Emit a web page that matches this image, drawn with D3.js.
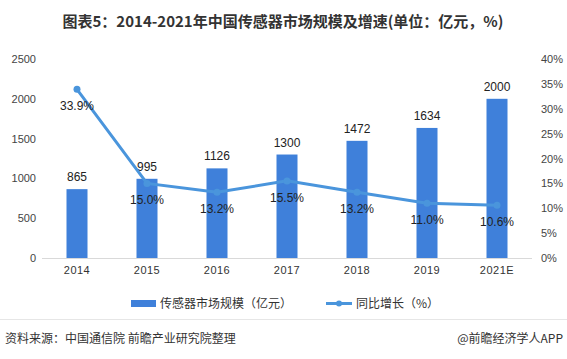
<!DOCTYPE html>
<html><head><meta charset="utf-8">
<script src="https://cdn.jsdelivr.net/npm/d3@7"></script>
<style>body{margin:0;background:#fff;}svg{display:block;font-family:"Noto Sans CJK SC","Noto Sans",sans-serif;}</style>
</head><body>
<script>
const categories = ["2014","2015","2016","2017","2018","2019","2021E"];
const marketSize = [865,995,1126,1300,1472,1634,2000];
const growth = [33.9,15.0,13.2,15.5,13.2,11.0,10.6];
const leftTicks = [0,500,1000,1500,2000,2500];
const rightTicks = [0,5,10,15,20,25,30,35,40];

const W=567,H=359;
const svg=d3.select("body").append("svg").attr("width",W).attr("height",H);
const x=d3.scaleBand().domain(categories).range([42,532]).paddingInner(0.7).paddingOuter(0.35);
const yL=d3.scaleLinear().domain([0,2500]).range([258,59]);
const yR=d3.scaleLinear().domain([0,40]).range([258,59]);

svg.append("text").attr("x",283).attr("y",27).attr("text-anchor","middle")
  .attr("font-size",15).attr("font-weight","bold").attr("fill","#333")
  .text("图表5：2014-2021年中国传感器市场规模及增速(单位：亿元，%)");

// axes
const gl=svg.append("g").attr("transform","translate(36,0)")
  .call(d3.axisLeft(yL).tickValues(leftTicks).tickFormat(d=>String(d)).tickSize(0).tickPadding(0));
gl.select(".domain").remove();
gl.selectAll("text").attr("font-size",11).attr("fill","#444").attr("font-family","'Liberation Sans',sans-serif");
const gr=svg.append("g").attr("transform","translate(541,0)")
  .call(d3.axisRight(yR).tickValues(rightTicks).tickFormat(d=>d+"%").tickSize(0).tickPadding(0));
gr.select(".domain").remove();
gr.selectAll("text").attr("font-size",11).attr("fill","#444").attr("font-family","'Liberation Sans',sans-serif");

svg.append("line").attr("x1",42).attr("x2",532).attr("y1",258.5).attr("y2",258.5).attr("stroke","#d9d9d9");

const gx=svg.append("g").attr("transform","translate(0,266)")
  .call(d3.axisBottom(x).tickSize(0).tickPadding(0));
gx.select(".domain").remove();
gx.selectAll("text").attr("font-size",11).attr("fill","#333").attr("letter-spacing","0.5px").attr("font-family","'Liberation Sans',sans-serif").attr("dy","0.71em");

// bars
svg.selectAll("rect.bar").data(marketSize).enter().append("rect").attr("class","bar")
  .attr("x",(d,i)=>x(categories[i])).attr("width",x.bandwidth())
  .attr("y",d=>yL(d)).attr("height",d=>yL(0)-yL(d)).attr("fill","#3f80da");
svg.selectAll("text.bl").data(marketSize).enter().append("text").attr("class","bl")
  .attr("x",(d,i)=>x(categories[i])+x.bandwidth()/2).attr("y",d=>yL(d)-8)
  .attr("text-anchor","middle").attr("font-size",12).attr("fill","#222")
  .attr("font-family","'Liberation Sans',sans-serif").text(d=>d);

// line
const cx=(i)=>x(categories[i])+x.bandwidth()/2;
const line=d3.line().x((d,i)=>cx(i)).y(d=>yR(d));
svg.append("path").datum(growth).attr("d",line).attr("fill","none").attr("stroke","#4a95dc").attr("stroke-width",3);
svg.selectAll("circle.pt").data(growth).enter().append("circle").attr("class","pt")
  .attr("cx",(d,i)=>cx(i)).attr("cy",d=>yR(d)).attr("r",3.5).attr("fill","#4a95dc");
svg.selectAll("text.pl").data(growth).enter().append("text").attr("class","pl")
  .attr("x",(d,i)=>cx(i)).attr("y",d=>yR(d)+21)
  .attr("text-anchor","middle").attr("font-size",12).attr("fill","#222")
  .attr("font-family","'Liberation Sans',sans-serif").text(d=>d.toFixed(1)+"%");

// legend
svg.append("rect").attr("x",131).attr("y",300).attr("width",25).attr("height",7).attr("fill","#3f80da");
svg.append("text").attr("x",160).attr("y",308).attr("font-size",12).attr("fill","#333").text("传感器市场规模（亿元）");
svg.append("line").attr("x1",326).attr("x2",352).attr("y1",303.5).attr("y2",303.5).attr("stroke","#4a95dc").attr("stroke-width",3);
svg.append("circle").attr("cx",339).attr("cy",303.5).attr("r",3).attr("fill","#4a95dc");
svg.append("text").attr("x",356).attr("y",308).attr("font-size",12).attr("fill","#333").text("同比增长（%）");

// footer
svg.append("line").attr("x1",0).attr("x2",W).attr("y1",319.5).attr("y2",319.5).attr("stroke","#e6e6e6");
svg.append("text").attr("x",5).attr("y",343).attr("font-size",12).attr("fill","#333").text("资料来源：中国通信院 前瞻产业研究院整理");
svg.append("text").attr("x",563).attr("y",343).attr("text-anchor","end").attr("font-size",12).attr("fill","#333").text("@前瞻经济学人APP");
</script>
</body></html>
